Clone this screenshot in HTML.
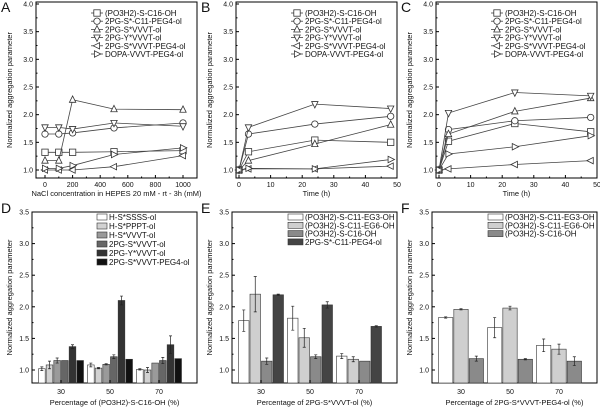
<!DOCTYPE html>
<html><head><meta charset="utf-8"><style>
html,body{margin:0;padding:0;background:#fff;}
svg{display:block;font-family:"Liberation Sans",sans-serif;}
</style></head><body>
<svg id="fig" width="600" height="407" viewBox="0 0 600 407"></svg>
<script>
// ---- Data ----
const seriesNamesLine = ["(PO3H2)-S-C16-OH","2PG-S*-C11-PEG4-ol","2PG-S*VVVT-ol","2PG-Y*VVVT-ol","2PG-S*VVVT-PEG4-ol","DOPA-VVVT-PEG4-ol"];
const markers = ["square","circle","up","down","left","right"];
const xA = [0,100,200,500,1000];
const valsA = [[1.32,1.32,1.32,1.33,1.35],[1.65,1.65,1.67,1.76,1.85],[1.17,1.17,2.27,2.10,2.09],[1.77,1.77,1.74,1.85,1.79],[1.00,1.00,1.00,1.06,1.26],[1.03,1.03,1.08,1.28,1.40]];
const xB = [0,3,24,48];
const valsB = [[1,1.33,1.54,1.50],[1,1.65,1.83,1.97],[1,1.17,1.47,1.82],[1,1.77,2.19,2.11],[1,1.02,1.02,1.07],[1,1.03,1.02,1.19]];
const xC = [0,3,24,48];
const valsC = [[1,1.52,1.84,1.69],[1,1.73,1.89,1.95],[1,1.65,2.06,2.30],[1,2.03,2.40,2.34],[1,1.02,1.10,1.17],[1,1.29,1.42,1.62]];
const ticksA = [0,200,400,600,800,1000];
const ticksBC = [0,10,20,30,40,50];
const yTicksLine = [1.0,1.5,2.0,2.5,3.0,3.5,4.0];
const yTicksBar = [1.0,1.5,2.0,2.5,3.0,3.5];
const barCats = ["30","50","70"];
const namesD = ["H-S*SSSS-ol","H-S*PPPT-ol","H-S*VVVT-ol","2PG-S*VVVT-ol","2PG-Y*VVVT-ol","2PG-S*VVVT-PEG4-ol"];
const valsD = [[1.02,1.08,1.01],[1.08,1.03,1.00],[1.15,1.09,1.11],[1.15,1.21,1.15],[1.37,2.10,1.40],[1.15,1.17,1.18]];
const errD = [[0.03,0.03,0.01],[0.06,0.01,0.04],[0.04,0.01,0],[0,0.03,0.05],[0.03,0.07,0.14],[0,0,0]];
const namesE = ["(PO3H2)-S-C11-EG3-OH","(PO3H2)-S-C11-EG6-OH","(PO3H2)-S-C16-OH","2PG-S*-C11-PEG4-ol"];
const valsE = [[1.78,1.82,1.22],[2.20,1.51,1.17],[1.14,1.21,1.14],[2.19,2.03,1.69]];
const errE = [[0.17,0.19,0.04],[0.28,0.15,0.04],[0.05,0.03,0],[0.01,0.05,0.01]];
const namesF = ["(PO3H2)-S-C11-EG3-OH","(PO3H2)-S-C11-EG6-OH","(PO3H2)-S-C16-OH"];
const valsF = [[1.83,1.67,1.39],[1.96,1.98,1.33],[1.18,1.17,1.14]];
const errF = [[0.01,0.16,0.10],[0.01,0.03,0.08],[0.04,0.01,0.07]];

const NS="http://www.w3.org/2000/svg";
const svg=document.getElementById('fig');
function el(tag,attrs,parent){const e=document.createElementNS(NS,tag);for(const k in attrs)e.setAttribute(k,attrs[k]);(parent||svg).appendChild(e);return e;}
function txt(s,x,y,size,anchor,parent,extra){const t=el('text',Object.assign({x:x,y:y,'font-size':size,'text-anchor':anchor||'start',fill:'#111'},extra||{}),parent);t.textContent=s;return t;}

function marker(g,type,x,y){const r=3.2;let e;
 if(type==='square')e=el('rect',{x:x-r,y:y-r,width:2*r,height:2*r},g);
 else if(type==='circle')e=el('circle',{cx:x,cy:y,r:r},g);
 else{let p;
  if(type==='up')p=[[x,y-r-0.6],[x-r,y+r-0.6],[x+r,y+r-0.6]];
  if(type==='down')p=[[x,y+r+0.6],[x-r,y-r+0.6],[x+r,y-r+0.6]];
  if(type==='left')p=[[x-r-0.6,y],[x+r-0.6,y-r],[x+r-0.6,y+r]];
  if(type==='right')p=[[x+r+0.6,y],[x-r+0.6,y-r],[x-r+0.6,y+r]];
  e=el('polygon',{points:p.map(q=>q.join(',')).join(' ')},g);}
 e.setAttribute('fill','#fff');e.setAttribute('stroke','#333');e.setAttribute('stroke-width','0.8');return e;}

function frame(g,L,R,T,B){el('rect',{x:L,y:T,width:R-L,height:B-T,fill:'none',stroke:'#000','stroke-width':1},g);}

function linePanel(off,letter,xs,vals,xTicks,xmin,xmax,xlabel,x0px,x1px){
 const g=el('g',{});
 
 
 const L=off+36,R=off+197,T=2,B=178;
 const sx=v=>x0px+(v-xmin)/(xmax-xmin)*(x1px-x0px);
 const sy=v=>170-(v-1)/3*166;
 frame(g,L,R,T,B);
 yTicksLine.forEach(v=>{const y=sy(v);el('line',{x1:L,x2:L+3,y1:y,y2:y,stroke:'#000'},g);
   const ym=sy(v+0.25); if(v<4) el('line',{x1:L,x2:L+1.5,y1:ym,y2:ym,stroke:'#000'},g);
   const t=txt(v.toFixed(1),L-3,y+2.5,7,'end',g);});
 xTicks.forEach((v,i)=>{const x=sx(v);el('line',{x1:x,x2:x,y1:B,y2:B-3,stroke:'#000'},g);
   if(i<xTicks.length-1){const xm=sx(v+(xTicks[1]-xTicks[0])/2);el('line',{x1:xm,x2:xm,y1:B,y2:B-1.5,stroke:'#000'},g);}
   const t=txt(String(v),x,B+9,7,'middle',g);});
 const xt=txt(xlabel,(L+R)/2,B+18,7.5,'middle',g);
 const yt=txt('Normalized aggregation parameter',0,0,7.5,'middle',g,{transform:`translate(${off+12},${(T+B)/2}) rotate(-90)`});
 
 const lt=txt(letter,off+1,12,14,'start',g);
 vals.forEach((s,si)=>{const sg=el('g',{},g);
   
   el('polyline',{points:s.map((v,i)=>sx(xs[i])+','+sy(v)).join(' '),fill:'none',stroke:'#444','stroke-width':0.8},sg);
   s.forEach((v,i)=>{const m=marker(sg,markers[si],sx(xs[i]),sy(v));});});
 const lg=el('g',{},g);
 seriesNamesLine.forEach((n,i)=>{const y=13+i*8.2;const eg=el('g',{},lg);
   
   el('line',{x1:off+91,x2:off+103,y1:y,y2:y,stroke:'#444','stroke-width':0.8},eg);
   marker(eg,markers[i],off+97,y);txt(n,off+105,y+3,8,'start',eg);});
}

function barPanel(off,letter,names,vals,errs,colors,xlabel,swX,swW,legY,legStep){
 const g=el('g',{});
 
 
 const L=off+32,R=off+197,T=212,B=383;
 const sy=v=>370-(v-1)/2.5*158;
 const cx=[off+61,off+110,off+159];
 frame(g,L,R,T,B);
 yTicksBar.forEach(v=>{const y=sy(v);el('line',{x1:L,x2:L+3,y1:y,y2:y,stroke:'#000'},g);
   if(v<3.5){const ym=sy(v+0.25);el('line',{x1:L,x2:L+1.5,y1:ym,y2:ym,stroke:'#000'},g);}
   const t=txt(v.toFixed(1),L-3,y+2.5,7,'end',g);});
 barCats.forEach((c,i)=>{el('line',{x1:cx[i],x2:cx[i],y1:B,y2:B-3,stroke:'#000'},g);
   const t=txt(c,cx[i],B+11,7,'middle',g);});
 const xt=txt(xlabel,(L+R)/2,B+22,7.5,'middle',g);
 const yt=txt('Normalized aggregation parameter',0,0,7.5,'middle',g,{transform:`translate(${off+12},${(T+B)/2}) rotate(-90)`});
 
 const lt=txt(letter,off+1,213,14,'start',g);
 const n=names.length,gw=46,bw=gw/n;
 vals.forEach((s,si)=>s.forEach((v,ci)=>{const x=cx[ci]-23+si*bw;const y=sy(v);
   const r=el('rect',{x:x+0.5,y:y,width:bw-1,height:B-y,fill:colors[si],stroke:'#333','stroke-width':0.6},g);
   
   const e=errs[si][ci];if(e>0){const xm=x+bw/2;el('path',{d:`M${xm},${sy(v+e)}V${sy(v-e)}M${xm-1.5},${sy(v+e)}H${xm+1.5}M${xm-1.5},${sy(v-e)}H${xm+1.5}`,stroke:'#222','stroke-width':0.7,fill:'none'},g);}
 }));
 const lg=el('g',{},g);
 names.forEach((nm,i)=>{const y=legY+i*legStep;const eg=el('g',{},lg);
   
   el('rect',{x:off+swX,y:y-3,width:swW,height:6,fill:colors[i],stroke:'#333','stroke-width':0.6},eg);
   txt(nm,off+swX+swW+2,y+3,8,'start',eg);});
}

linePanel(0,'A',xA,valsA,ticksA,0,1000,'NaCl concentration in HEPES 20 mM - rt - 3h (mM)',45,183);
linePanel(200,'B',xB,valsB,ticksBC,0,50,'Time (h)',239,397);
linePanel(400,'C',xC,valsC,ticksBC,0,50,'Time (h)',439,597);
barPanel(0,'D',namesD,valsD,errD,['#fff','#d2d2d2','#9a9a9a','#666','#333','#111'],'Percentage of (PO3H2)-S-C16-OH (%)',97,10,217,9);
barPanel(200,'E',namesE,valsE,errE,['#fff','#cfcfcf','#8a8a8a','#444'],'Percentage of 2PG-S*VVVT-ol (%)',88,15,217,8.3);
barPanel(400,'F',namesF,valsF,errF,['#fff','#cfcfcf','#8a8a8a'],'Percentage of 2PG-S*VVVT-PEG4-ol (%)',88,15,217,8.3);
</script>
</body></html>
